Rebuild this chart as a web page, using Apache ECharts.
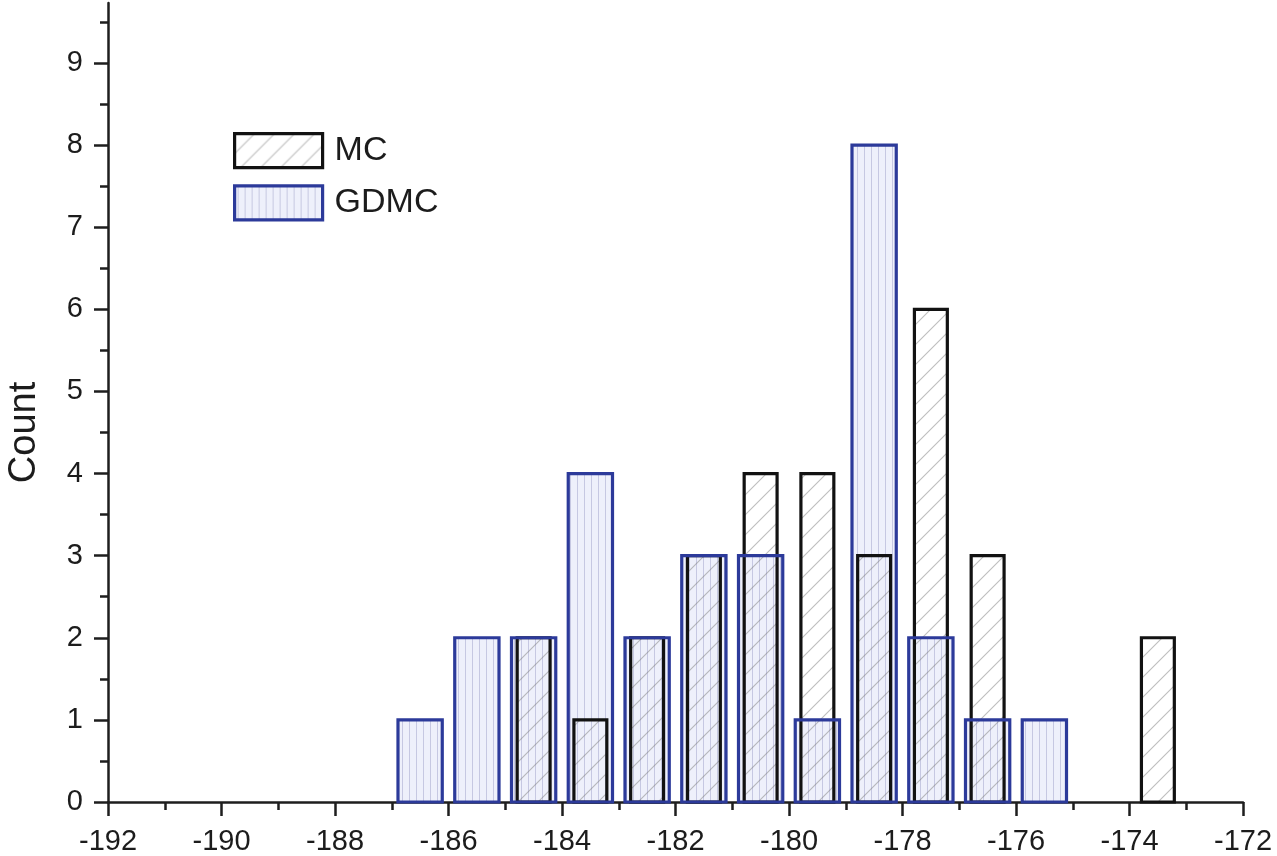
<!DOCTYPE html>
<html>
<head>
<meta charset="utf-8">
<script src="https://cdn.jsdelivr.net/npm/echarts@6/dist/echarts.min.js"></script>
<style>
  html, body { margin: 0; padding: 0; background: #ffffff; }
  #chart { width: 1277px; height: 856px; }
</style>
</head>
<body>
<div id="chart"></div>
<script>
// Histogram of energies: bin centres and counts for each method
const mcBins = [-184.5, -183.5, -182.5, -181.5, -180.5, -179.5, -178.5, -177.5, -176.5, -173.5];
const mcCounts = [2, 1, 2, 3, 4, 4, 3, 6, 3, 2];

const gdmcBins = [-186.5, -185.5, -184.5, -183.5, -182.5, -181.5, -180.5, -179.5, -178.5, -177.5, -176.5, -175.5];
const gdmcCounts = [1, 2, 2, 4, 2, 3, 3, 1, 8, 2, 1, 1];

const yMajorTicks = [0, 1, 2, 3, 4, 5, 6, 7, 8, 9];
const yMinorTicks = [0.5, 1.5, 2.5, 3.5, 4.5, 5.5, 6.5, 7.5, 8.5, 9.5];

// Hatch tiles used as repeating fills
function tile(size, paint) {
  const c = document.createElement('canvas');
  c.width = size; c.height = size;
  paint(c.getContext('2d'), size);
  return { image: c, repeat: 'repeat' };
}
const diagonalHatch = tile(20, function (ctx, s) {
  ctx.strokeStyle = 'rgba(125,125,125,0.5)';
  ctx.lineWidth = 1.1;
  ctx.beginPath();
  ctx.moveTo(0, s); ctx.lineTo(s, 0);
  ctx.moveTo(-2, 2); ctx.lineTo(2, -2);
  ctx.moveTo(s - 2, s + 2); ctx.lineTo(s + 2, s - 2);
  ctx.stroke();
});
const verticalHatch = tile(7, function (ctx, s) {
  ctx.fillStyle = '#eef0fb';
  ctx.fillRect(0, 0, s, s);
  ctx.fillStyle = '#c6c8e2';
  ctx.fillRect(3, 0, 1, s);
});

const MC_WIDTH = 0.58;
const GDMC_WIDTH = 0.78;
const MC_STROKE = '#121212';
const GDMC_STROKE = '#2c3a9a';

function barRenderer(width, style) {
  return function (params, api) {
    const x = api.value(0);
    const y = api.value(1);
    const topLeft = api.coord([x - width / 2, y]);
    const bottomRight = api.coord([x + width / 2, 0]);
    return {
      type: 'rect',
      shape: {
        x: topLeft[0],
        y: topLeft[1],
        width: bottomRight[0] - topLeft[0],
        height: bottomRight[1] - topLeft[1]
      },
      style: style
    };
  };
}

const mcData = mcBins.map((b, i) => [b, mcCounts[i]]);
const gdmcData = gdmcBins.map((b, i) => [b, gdmcCounts[i]]);

const textColor = '#1c1c1c';
const axisColor = '#1e1e1e';
const font = 'Liberation Sans, Arial, sans-serif';

const chart = echarts.init(document.getElementById('chart'), null, { renderer: 'canvas' });

chart.setOption({
  animation: false,
  backgroundColor: '#ffffff',
  grid: { left: 108, right: 34, top: 3, bottom: 54, containLabel: false, outerBoundsMode: 'none' },
  legend: {
    orient: 'vertical',
    left: 233,
    top: 132,
    padding: 0,
    itemWidth: 88,
    itemHeight: 34,
    itemGap: 15,
    icon: 'rect',
    textStyle: { fontSize: 34, color: textColor, fontFamily: font, padding: [0, 0, 0, 7] },
    data: [
      { name: 'MC', icon: 'rect', itemStyle: { color: diagonalHatch, borderColor: MC_STROKE, borderWidth: 3.2 } },
      { name: 'GDMC', icon: 'rect', itemStyle: { color: verticalHatch, borderColor: GDMC_STROKE, borderWidth: 3.2 } }
    ]
  },
  xAxis: {
    type: 'value',
    min: -192,
    max: -172,
    interval: 2,
    splitLine: { show: false },
    axisLine: { show: true, onZero: false, lineStyle: { color: axisColor, width: 2.5 } },
    axisTick: { show: true, inside: false, length: 14, lineStyle: { color: axisColor, width: 2.5 } },
    minorTick: { show: true, splitNumber: 2, length: 8, lineStyle: { color: axisColor, width: 2.5 } },
    axisLabel: { fontSize: 29, color: textColor, fontFamily: font, margin: 25 }
  },
  yAxis: [
    {
      type: 'value',
      min: 0,
      max: 9.73,
      interval: 1,
      name: 'Count',
      nameLocation: 'middle',
      nameGap: 64,
      nameTextStyle: { fontSize: 38, color: textColor, fontFamily: font, padding: [0, 60, 0, 0] },
      splitLine: { show: false },
      axisLine: { show: true, lineStyle: { color: axisColor, width: 2.5 } },
      axisTick: { show: true, inside: false, length: 14, customValues: yMajorTicks, lineStyle: { color: axisColor, width: 2.5 } },
      axisLabel: { fontSize: 29, color: textColor, fontFamily: font, margin: 25, customValues: yMajorTicks }
    },
    {
      type: 'value',
      min: 0,
      max: 9.73,
      position: 'left',
      splitLine: { show: false },
      axisLine: { show: false },
      axisTick: { show: true, inside: false, length: 8, customValues: yMinorTicks, lineStyle: { color: axisColor, width: 2.5 } },
      axisLabel: { show: false }
    }
  ],
  series: [
    {
      // GDMC bodies underneath everything
      name: 'GDMC',
      type: 'custom',
      yAxisIndex: 0,
      data: gdmcData,
      renderItem: barRenderer(GDMC_WIDTH, { fill: verticalHatch, stroke: null, lineWidth: 0 }),
      silent: true
    },
    {
      name: 'MC',
      type: 'custom',
      yAxisIndex: 0,
      data: mcData,
      renderItem: barRenderer(MC_WIDTH, { fill: diagonalHatch, stroke: MC_STROKE, lineWidth: 3.2 }),
      silent: true
    },
    {
      // GDMC outlines drawn last
      name: 'GDMC',
      type: 'custom',
      yAxisIndex: 0,
      data: gdmcData,
      renderItem: barRenderer(GDMC_WIDTH, { fill: 'none', stroke: GDMC_STROKE, lineWidth: 3.2 }),
      silent: true
    }
  ]
});
</script>
</body>
</html>
